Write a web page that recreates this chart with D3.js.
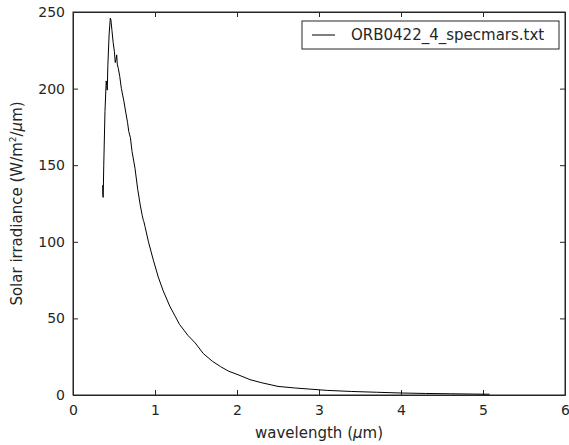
<!DOCTYPE html>
<html>
<head>
<meta charset="utf-8">
<script src="https://cdn.jsdelivr.net/npm/d3@7"></script>
<style>
  body { margin: 0; background: #fff; }
  text { font-family: "DejaVu Sans", sans-serif; fill: #262626; }
</style>
</head>
<body>
<div id="chart"></div>
<script>
// spectrum
const wavelength = [0.362, 0.364, 0.368, 0.375, 0.39, 0.405, 0.412, 0.418, 0.425, 0.44, 0.455, 0.462,
  0.475, 0.49, 0.505, 0.515, 0.525, 0.533, 0.54, 0.553, 0.57, 0.59, 0.62, 0.645, 0.665, 0.68, 0.70,
  0.72, 0.756, 0.79, 0.82, 0.845, 0.858, 0.865, 0.878, 0.92, 0.98, 1.04, 1.10, 1.18, 1.25, 1.30,
  1.40, 1.49, 1.59, 1.70, 1.80, 1.90, 2.0, 2.16, 2.3, 2.5, 2.7, 2.9, 3.1, 3.4, 3.7, 4.0, 4.3, 4.6,
  4.9, 5.08];
const irradiance = [137, 130, 129, 150, 185, 205, 202, 199, 215, 235, 246, 245,
  238, 230, 224, 217, 219, 222, 216, 213, 208, 200, 192, 184, 178, 172, 168,
  159, 148, 134, 124, 117, 114, 113, 110, 100, 88, 77, 68, 58, 51, 46,
  39, 34, 27, 22, 18.5, 15.5, 13.5, 10, 8, 5.6, 4.6, 3.8, 3.0, 2.3, 1.8, 1.3, 1.0, 0.8,
  0.6, 0.5];
const xTicks = [0, 1, 2, 3, 4, 5, 6];
const yTicks = [0, 50, 100, 150, 200, 250];
const seriesName = "ORB0422_4_specmars.txt";

const W = 569, H = 445;
const margin = { top: 12, right: 4, bottom: 50, left: 73 };
const width = W - margin.left - margin.right,
  height = H - margin.top - margin.bottom;

const svg = d3.select("#chart").append("svg")
  .attr("width", W).attr("height", H);
const g = svg.append("g")
  .attr("transform", "translate(" + margin.left + "," + margin.top + ")");

const x = d3.scaleLinear().domain([0, 6]).range([0, width]);
const y = d3.scaleLinear().domain([0, 250]).range([height, 0]);

const axisColor = "#262626";

// bottom / left axes with inward ticks
const xAxis = g.append("g")
  .attr("transform", "translate(0," + height + ")")
  .call(d3.axisBottom(x).tickValues(xTicks).tickFormat(d3.format("d"))
    .tickSize(-5).tickSizeOuter(0).tickPadding(10));
const yAxis = g.append("g")
  .call(d3.axisLeft(y).tickValues(yTicks).tickSize(-5).tickSizeOuter(0).tickPadding(8));
// mirrored ticks on top / right
const xTop = g.append("g")
  .call(d3.axisTop(x).tickValues(xTicks).tickSize(-5).tickSizeOuter(0).tickFormat(""));
const yRight = g.append("g")
  .attr("transform", "translate(" + width + ",0)")
  .call(d3.axisRight(y).tickValues(yTicks).tickSize(-5).tickSizeOuter(0).tickFormat(""));

[xAxis, yAxis, xTop, yRight].forEach(a => {
  a.selectAll("line").attr("stroke", axisColor);
  a.select(".domain").attr("stroke", axisColor);
  a.selectAll("text").style("font-size", "14px").attr("fill", axisColor);
});

g.append("rect")
  .attr("width", width).attr("height", height)
  .attr("fill", "none").attr("stroke", axisColor).attr("stroke-width", 1);

// the spectrum
const pts = wavelength.map((w, i) => [w, irradiance[i]]);
g.append("path")
  .datum(pts)
  .attr("fill", "none")
  .attr("stroke", "#000")
  .attr("stroke-width", 1)
  .attr("d", d3.line().x(d => x(d[0])).y(d => y(d[1])));

// axis labels
const xl = svg.append("text")
  .attr("x", margin.left + width / 2).attr("y", 438)
  .attr("text-anchor", "middle").style("font-size", "15px");
xl.append("tspan").text("wavelength (");
xl.append("tspan").style("font-style", "italic").text("\u03bc");
xl.append("tspan").text("m)");

const yl = svg.append("text")
  .attr("transform", "translate(22," + (margin.top + height / 2) + ") rotate(-90)")
  .attr("text-anchor", "middle").style("font-size", "15px");
yl.append("tspan").text("Solar irradiance (W/m");
yl.append("tspan").attr("dy", -6).style("font-size", "9px").text("2");
yl.append("tspan").attr("dy", 6).text("/");
yl.append("tspan").style("font-style", "italic").text("\u03bc");
yl.append("tspan").text("m)");

// legend
const leg = svg.append("g");
leg.append("rect")
  .attr("x", 302).attr("y", 21).attr("width", 257).attr("height", 28)
  .attr("fill", "#fff").attr("stroke", axisColor);
leg.append("line")
  .attr("x1", 312).attr("x2", 335).attr("y1", 35).attr("y2", 35)
  .attr("stroke", "#000");
leg.append("text")
  .attr("x", 351).attr("y", 40).style("font-size", "15px").text(seriesName);
</script>
</body>
</html>
